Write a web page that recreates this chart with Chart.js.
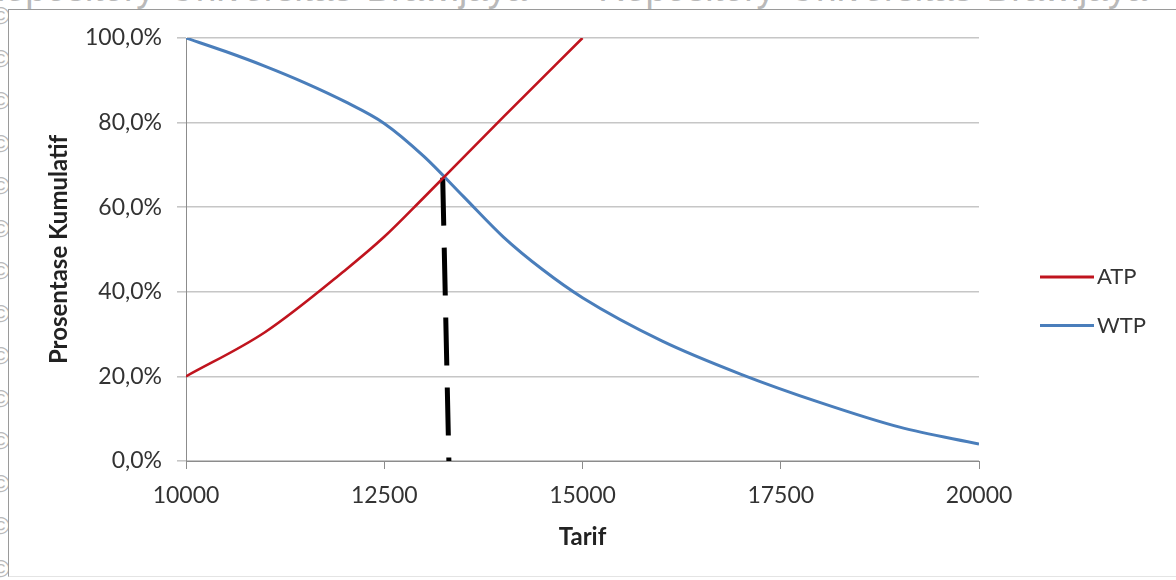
<!DOCTYPE html>
<html>
<head>
<meta charset="utf-8">
<script src="https://cdn.jsdelivr.net/npm/chart.js@4.4.1/dist/chart.umd.min.js"></script>
<style>
  html, body { margin: 0; padding: 0; background: #fff; overflow: hidden; }
  body { width: 1176px; height: 580px; position: relative; }
  .wm { position: absolute; font-family: "Liberation Sans", Arial, sans-serif; color: #b9b9b9; white-space: nowrap; }
  .wm-top { left: -22px; top: -30px; font-size: 37px; line-height: 37px; word-spacing: 4px; }
  .wm-c { left: -8px; font-size: 24px; line-height: 24px; }
  #frame { position: absolute; left: 8px; top: 9px; width: 1180px; height: 566px; background: #fff;
           border-left: 1px solid #9a9a9a; border-top: 1px solid #9a9a9a; border-bottom: 1px solid #e4e4e4; }
  #wrap { position: absolute; left: 0; top: 0; width: 1176px; height: 580px; }
</style>
</head>
<body>
<div class="wm wm-top">Repository Universitas Brawijaya&nbsp;&nbsp;&nbsp;&nbsp;&nbsp;Repository Universitas Brawijaya</div>
<div id="marks"></div>
<div id="frame"></div>
<div id="wrap"><canvas id="chart"></canvas></div>
<script>
// data
const atpX = [10000, 11000, 12000, 12500, 13000, 14000, 15000];
const atpY = [20, 30.5, 45, 53, 62.3, 81.3, 100];
const wtpX = [10000, 10500, 11000, 11500, 12000, 12500, 13000, 13500, 14000, 14500, 15000, 16000, 17000, 18000, 19000, 20000];
const wtpY = [100, 96.8, 93.3, 89.4, 85, 79.8, 72, 62.5, 53, 45.2, 38.6, 28.4, 20.5, 13.8, 8, 4];
const cutX = [13237, 13315];
const cutY = [67, 0];
const xTicks = [10000, 12500, 15000, 17500, 20000];
const yTicks = [0, 20, 40, 60, 80, 100];

// faint copyright marks on the left edge
const marks = document.getElementById('marks');
for (let i = 0; i < 14; i++) {
    const s = document.createElement('div');
    s.className = 'wm wm-c';
    s.style.top = (i * 42.5 + 4) + 'px';
    s.textContent = '©';
    marks.appendChild(s);
}

const pts = (xs, ys) => xs.map((x, i) => ({ x: x, y: ys[i] }));
const fontFam = 'Lato, "Open Sans", sans-serif';
const axisGray = '#8c8c8c';

const legendPlugin = {
    id: 'sideLegend',
    afterDraw(chart) {
        const ctx = chart.ctx;
        const items = chart.data.datasets.filter(d => d.inLegend);
        ctx.save();
        ctx.font = '22px ' + fontFam;
        ctx.textBaseline = 'middle';
        items.forEach((d, i) => {
            const y = 277 + i * 48.5;
            ctx.strokeStyle = d.borderColor;
            ctx.lineWidth = 3;
            ctx.beginPath();
            ctx.moveTo(1040, y);
            ctx.lineTo(1094, y);
            ctx.stroke();
            ctx.fillStyle = '#333';
            ctx.fillText(d.label, 1097, y);
        });
        ctx.restore();
    }
};

new Chart(document.getElementById('chart'), {
    type: 'scatter',
    data: {
        datasets: [
            { label: 'ATP', inLegend: true, data: pts(atpX, atpY), showLine: true, borderColor: '#C0141E',
              borderWidth: 2.6, pointRadius: 0, cubicInterpolationMode: 'monotone' },
            { label: 'WTP', inLegend: true, data: pts(wtpX, wtpY), showLine: true, borderColor: '#4A7EBB',
              borderWidth: 3, pointRadius: 0, cubicInterpolationMode: 'monotone' },
            { label: 'batas', data: pts(cutX, cutY), showLine: true, borderColor: '#000',
              borderWidth: 5, borderDash: [48, 22], pointRadius: 0 }
        ]
    },
    options: {
        responsive: true,
        maintainAspectRatio: false,
        animation: false,
        events: [],
        layout: { padding: { left: 0, top: 38, right: 197, bottom: 0 } },
        plugins: { legend: { display: false }, tooltip: { enabled: false } },
        scales: {
            x: {
                type: 'linear',
                min: 10000, max: 20000,
                afterBuildTicks: s => { s.ticks = xTicks.map(v => ({ value: v })); },
                afterFit: s => { s.height = 119; },
                border: { color: axisGray, width: 1 },
                grid: { drawOnChartArea: false, drawTicks: true, tickLength: 8, color: axisGray },
                ticks: { color: '#333', font: { family: fontFam, size: 23 }, padding: 13, maxRotation: 0,
                         callback: v => String(v) },
                title: { display: true, text: 'Tarif', color: '#222',
                         font: { family: fontFam, size: 24, weight: 'bold' }, padding: { top: 0, bottom: 28 } }
            },
            y: {
                min: 0, max: 100,
                afterBuildTicks: s => { s.ticks = yTicks.map(v => ({ value: v })); },
                afterFit: s => { s.width = 186; },
                border: { color: axisGray, width: 1 },
                grid: { color: '#c6c6c6', lineWidth: 1.6, tickLength: 9 },
                ticks: { color: '#333', font: { family: fontFam, size: 23 }, padding: 15,
                         callback: v => v.toFixed(1).replace('.', ',') + '%' },
                title: { display: true, text: 'Prosentase Kumulatif', color: '#222',
                         font: { family: fontFam, size: 24, weight: 'bold' }, padding: { top: 45, bottom: 0 } }
            }
        }
    },
    plugins: [legendPlugin]
});
</script>
</body>
</html>
